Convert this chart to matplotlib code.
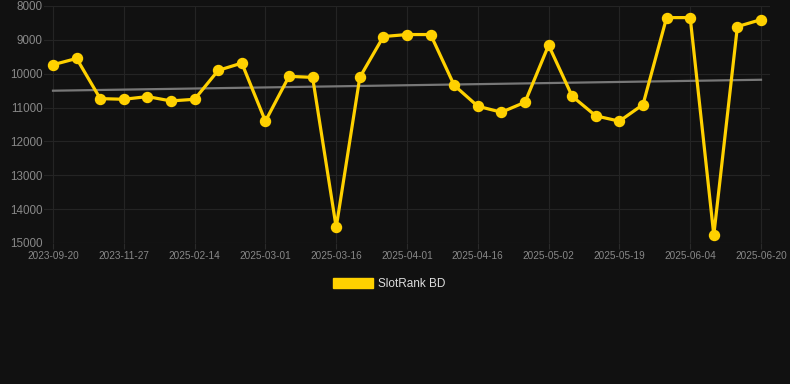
import matplotlib
matplotlib.use("Agg")
import matplotlib.pyplot as plt
import numpy as np
from matplotlib.patches import Patch

dates = ["2023-09-20", "2023-10-13", "2023-11-05", "2023-11-27", "2023-12-20", "2024-01-12",
         "2025-02-14", "2025-02-19", "2025-02-24", "2025-03-01", "2025-03-06", "2025-03-11",
         "2025-03-16", "2025-03-21", "2025-03-26", "2025-04-01", "2025-04-06", "2025-04-11",
         "2025-04-16", "2025-04-21", "2025-04-26", "2025-05-02", "2025-05-08", "2025-05-14",
         "2025-05-19", "2025-05-24", "2025-05-29", "2025-06-04", "2025-06-09", "2025-06-15",
         "2025-06-20"]
ranks = [9735, 9549, 10735, 10755, 10676, 10804, 10755, 9902, 9686, 11402,
         10078, 10108, 14539, 10108, 8902, 8843, 8843, 10343, 10961, 11137,
         10843, 9157, 10667, 11245, 11402, 10912, 8343, 8343, 14765, 8608, 8402]
series_name = "SlotRank BD"
y_ticks = [8000, 9000, 10000, 11000, 12000, 13000, 14000, 15000]

BG = "#111111"
GOLD = "#FFD100"

W, H = 790, 384
fig = plt.figure(figsize=(W / 100, H / 100), dpi=100, facecolor=BG)
ax = fig.add_axes([44 / W, 1 - 243 / H, (770 - 44) / W, (243 - 6) / H])
ax.set_facecolor(BG)

x = np.arange(len(ranks))
coef = np.polyfit(x, ranks, 1)
ax.plot(x, np.polyval(coef, x), color="#777777", lw=1.6, zorder=2)
ax.plot(x, ranks, color=GOLD, lw=2.3, marker="o", ms=7.2, mfc=GOLD, mec=GOLD, zorder=3)

ax.set_xlim(-9 / 23.6, len(ranks) - 1 + 9 / 23.6)
ax.set_ylim(15000, 8000)
ax.set_yticks(y_ticks)
ax.set_yticklabels([str(v) for v in y_ticks])
tick_idx = list(range(0, len(dates), 3))
ax.set_xticks(tick_idx)
ax.set_xticklabels([dates[i] for i in tick_idx])

ax.grid(True, color="#242424", lw=0.8)
for s in ax.spines.values():
    s.set_visible(False)
ax.tick_params(axis="both", colors="#2a2a2a", labelcolor="#888888", length=4, width=0.8)
ax.tick_params(axis="x", labelsize=7.2, pad=2)
ax.tick_params(axis="y", labelsize=8.4, length=0, pad=1)
for lab in ax.get_xticklabels() + ax.get_yticklabels():
    lab.set_fontfamily("Liberation Sans")

leg = fig.legend(handles=[Patch(facecolor=GOLD, edgecolor=GOLD, label=series_name)],
                 loc="center", bbox_to_anchor=(389 / W, 1 - 284 / H), frameon=False,
                 handlelength=3.4, handleheight=1.0, handletextpad=0.45,
                 prop={"family": "Liberation Sans", "size": 8.5})
for t in leg.get_texts():
    t.set_color("#dddddd")

fig.savefig("out.png", dpi=100, facecolor=BG)
